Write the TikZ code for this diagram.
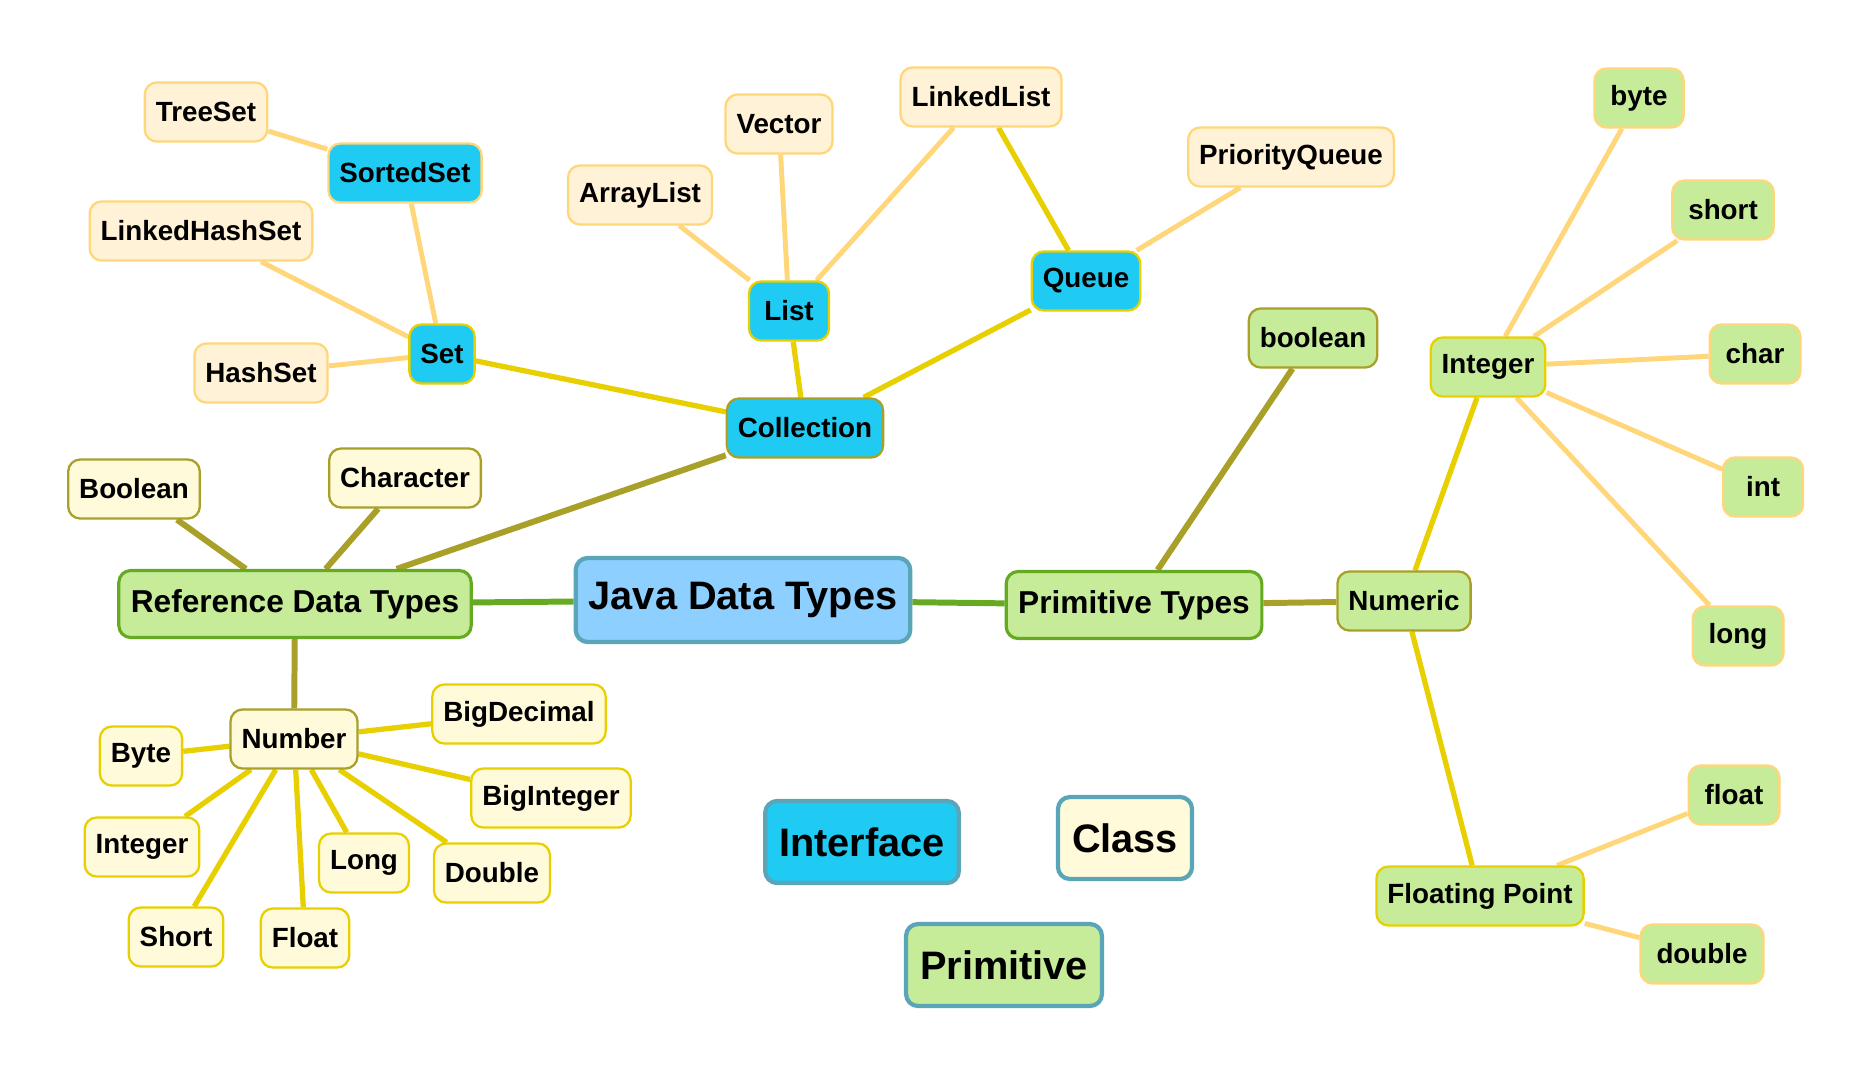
\documentclass[tikz,border=0pt]{standalone}
\usepackage{fontspec}
\setmainfont{Liberation Sans}
\usetikzlibrary{backgrounds}
\definecolor{rootbg}{HTML}{8DCFFF}
\definecolor{keyline}{HTML}{5AA5B8}
\definecolor{ifacebg}{HTML}{1FCBF2}
\definecolor{primbg}{HTML}{C6EC9A}
\definecolor{classbg}{HTML}{FFFADA}
\definecolor{implbg}{HTML}{FFF2D6}
\definecolor{lvlgreen}{HTML}{66AA22}
\definecolor{lvlolive}{HTML}{A8A028}
\definecolor{lvlyellow}{HTML}{E8CF00}
\definecolor{lvlorange}{HTML}{FFD67A}

\begin{document}
\begin{tikzpicture}[
  x=0.01cm, y=-0.01cm,
  box/.style={rounded corners=0.12cm, font=\bfseries\fontsize{7.9}{9}\selectfont,
              minimum height=0.59cm, inner xsep=0.11cm, inner ysep=0pt, line width=0.65pt},
  rootbox/.style={box, fill=rootbg, draw=keyline, line width=1.2pt,
                  font=\bfseries\fontsize{11.3}{13}\selectfont, minimum height=0.84cm, inner xsep=0.13cm},
  branch/.style={box, fill=primbg, draw=lvlgreen, line width=0.9pt,
                 font=\bfseries\fontsize{9}{11}\selectfont, minimum height=0.67cm, inner xsep=0.12cm},
  keybox/.style={box, draw=keyline, line width=1.2pt,
                 font=\bfseries\fontsize{11.3}{13}\selectfont, minimum height=0.82cm, inner xsep=0.14cm},
  iface/.style={box, fill=ifacebg},
  cls/.style={box, fill=classbg},
  impl/.style={box, fill=implbg, draw=lvlorange},
  prim/.style={box, fill=primbg},
  pleaf/.style={prim, draw=lvlorange, inner xsep=0.16cm, minimum width=0.8cm},
  dtwo/.style={draw=lvlolive},
  dthree/.style={draw=lvlyellow},
  dfour/.style={draw=lvlorange},
  egreen/.style={lvlgreen, line width=1.7pt},
  eolive/.style={lvlolive, line width=1.7pt},
  eyellow/.style={lvlyellow, line width=1.5pt},
  eorange/.style={lvlorange, line width=1.4pt},
]
\useasboundingbox (0,0) rectangle (1874,1075);

\node[rootbox] (root) at (743,600) {Java Data Types};
\node[branch] (refty) at (295,604) {Reference Data Types};
\node[branch] (primty) at (1134,605) {Primitive Types};

\node[iface, dtwo] (coll) at (805,428) {Collection};
\node[iface, dthree] (set) at (442,354) {Set};
\node[iface, dthree, minimum width=0.8cm] (list) at (789,311) {List};
\node[iface, dthree] (queue) at (1086,281) {Queue};
\node[iface, dfour] (sorted) at (405,173) {SortedSet};
\node[impl] (tree) at (206,112) {TreeSet};
\node[impl] (lhset) at (201,231) {LinkedHashSet};
\node[impl] (hset) at (261,373) {HashSet};
\node[impl] (alist) at (640,195) {ArrayList};
\node[impl] (vec) at (779,124) {Vector};
\node[impl] (llist) at (981,97) {LinkedList};
\node[impl] (pq) at (1291,157) {PriorityQueue};

\node[cls, dtwo] (boolcls) at (134,489) {Boolean};
\node[cls, dtwo] (charcls) at (405,478) {Character};
\node[cls, dtwo] (num) at (294,739) {Number};
\node[cls, dthree] (bigdec) at (519,714) {BigDecimal};
\node[cls, dthree] (bytecls) at (141,756) {Byte};
\node[cls, dthree] (bigint) at (551,798) {BigInteger};
\node[cls, dthree] (intcls) at (142,847) {Integer};
\node[cls, dthree] (longcls) at (364,863) {Long};
\node[cls, dthree] (dblcls) at (492,873) {Double};
\node[cls, dthree] (shortcls) at (176,937) {Short};
\node[cls, dthree] (floatcls) at (305,938) {Float};

\node[prim, dtwo] (boolp) at (1313,338) {boolean};
\node[prim, dtwo] (numeric) at (1404,601) {Numeric};
\node[prim, dthree] (intp) at (1488,367) {Integer};
\node[prim, dthree] (fltp) at (1480,896) {Floating Point};
\node[pleaf] (bytep) at (1639,98) {byte};
\node[pleaf] (shortp) at (1723,210) {short};
\node[pleaf] (charp) at (1755,354) {char};
\node[pleaf] (intleaf) at (1763,487) {int};
\node[pleaf] (longp) at (1738,636) {long};
\node[pleaf] (floatp) at (1734,795) {float};
\node[pleaf] (dblp) at (1702,954) {double};

\node[keybox, fill=ifacebg] (keyiface) at (862,842) {Interface};
\node[keybox, fill=classbg] (keycls) at (1125,838) {Class};
\node[keybox, fill=primbg] (keyprim) at (1004,965) {Primitive};

\begin{scope}[on background layer]
\draw[egreen] (root) -- (refty);
\draw[egreen] (root) -- (primty);
\draw[eolive] (refty) -- (coll);
\draw[eolive] (refty) -- (boolcls);
\draw[eolive] (refty) -- (charcls);
\draw[eolive] (refty) -- (num);
\draw[eolive] (primty) -- (boolp);
\draw[eolive] (primty) -- (numeric);
\draw[eyellow] (coll) -- (set);
\draw[eyellow] (coll) -- (list);
\draw[eyellow] (coll) -- (queue);
\draw[eyellow] (queue) -- (llist);
\foreach \leaf in {bigdec,bytecls,bigint,intcls,longcls,dblcls,shortcls,floatcls}
  \draw[eyellow] (num) -- (\leaf);
\draw[eyellow] (numeric) -- (intp);
\draw[eyellow] (numeric) -- (fltp);
\draw[eorange] (set) -- (sorted);
\draw[eorange] (set) -- (lhset);
\draw[eorange] (set) -- (hset);
\draw[eorange] (sorted) -- (tree);
\draw[eorange] (list) -- (alist);
\draw[eorange] (list) -- (vec);
\draw[eorange] (list) -- (llist);
\draw[eorange] (queue) -- (pq);
\foreach \leaf in {bytep,shortp,charp,intleaf,longp}
  \draw[eorange] (intp) -- (\leaf);
\draw[eorange] (fltp) -- (floatp);
\draw[eorange] (fltp) -- (dblp);
\end{scope}
\end{tikzpicture}
\end{document}
